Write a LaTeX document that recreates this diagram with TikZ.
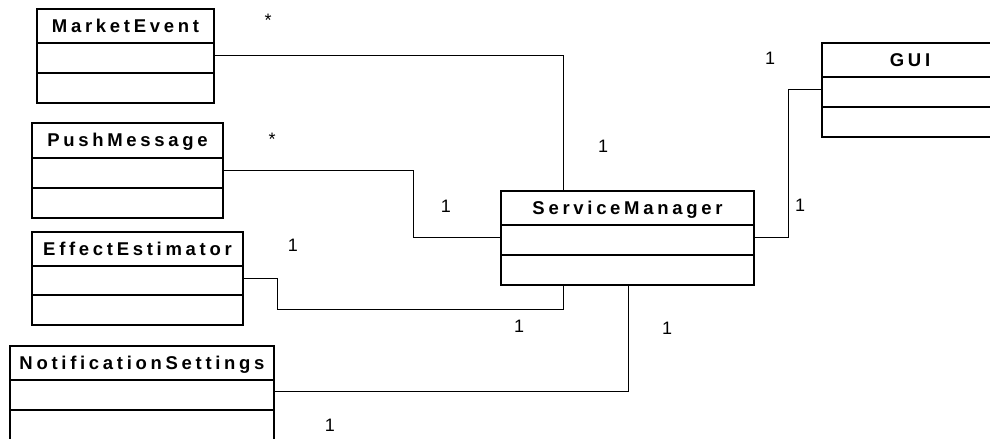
\documentclass[tikz,border=0pt]{standalone}
\usepackage{fontspec}
\setmainfont{Liberation Sans}
\newfontfamily\hdrfont[LetterSpace=20]{Liberation Sans}
\usetikzlibrary{fit,calc}

\tikzset{
  classbox/.style={draw, line width=2bp, inner sep=0pt},
  divider/.style={line width=2bp},
  assoc/.style={line width=1bp},
  mult/.style={font=\fontsize{18bp}{20bp}\selectfont, inner sep=0pt},
  classtitle/.style={font=\hdrfont\bfseries\fontsize{18.5bp}{20bp}\selectfont,
                     inner sep=0pt, anchor=base}
}

% #1 name, (#2,#3)-(#4,#5) outline, #6 and #7 compartment dividers, #8 title
\newcommand\umlclass[8]{%
  \node[classbox, fit={(#2,#3) (#4,#5)}] (#1) {};
  \draw[divider] (#2,#6) -- (#4,#6);
  \draw[divider] (#2,#7) -- (#4,#7);
  \node[classtitle] at ($(#2,#3)!0.5!(#4,#6)+(0,6.5)$) {#8};
}

\begin{document}
\begin{tikzpicture}[x=1bp, y=-1bp]
  \useasboundingbox (0,0) rectangle (990,439);

  % classes
  \umlclass{me}{37}{9}{214}{103}{43}{73}{MarketEvent}
  \umlclass{pm}{32}{123}{223}{218}{158}{188}{PushMessage}
  \umlclass{ee}{32}{232}{243}{325}{266}{295}{EffectEstimator}
  \umlclass{ns}{10}{346}{274}{442}{380}{410}{NotificationSettings}
  \umlclass{sm}{501}{191}{754}{285}{225}{255}{ServiceManager}
  \umlclass{gui}{822}{43}{998}{137}{77}{107}{GUI}

  % bend points of the associations
  \coordinate (k1) at (563,56);
  \coordinate (k2) at (413,171);
  \coordinate (k3a) at (277,279);
  \coordinate (k3) at (277,310);
  \coordinate (k4) at (628,392);
  \coordinate (k5) at (788,90);

  % associations
  \draw[assoc] (me.east |- k1) -| (sm.north -| k1);
  \draw[assoc] (pm.east |- k2) -- (k2) |- (sm.west);
  \draw[assoc] (ee.east |- k3a) -- (k3a) -- (k3) -| (sm.south -| k1);
  \draw[assoc] (ns.east |- k4) -| (sm.south -| k4);
  \draw[assoc] (gui.west |- k5) -- (k5) |- (sm.east);

  % multiplicities
  \node[mult] (m1) at (268,20) {*};
  \node[mult] (m2) at (603,146) {1};
  \node[mult] (m3) at (272,139) {*};
  \node[mult] (m4) at (446,206) {1};
  \node[mult] (m5) at (293,245) {1};
  \node[mult] (m6) at (519,326) {1};
  \node[mult] (m7) at (667,328) {1};
  \node[mult] (m8) at (330,425) {1};
  \node[mult] (m9) at (800,205) {1};
  \node[mult] (m10) at (770,58) {1};
\end{tikzpicture}
\end{document}
